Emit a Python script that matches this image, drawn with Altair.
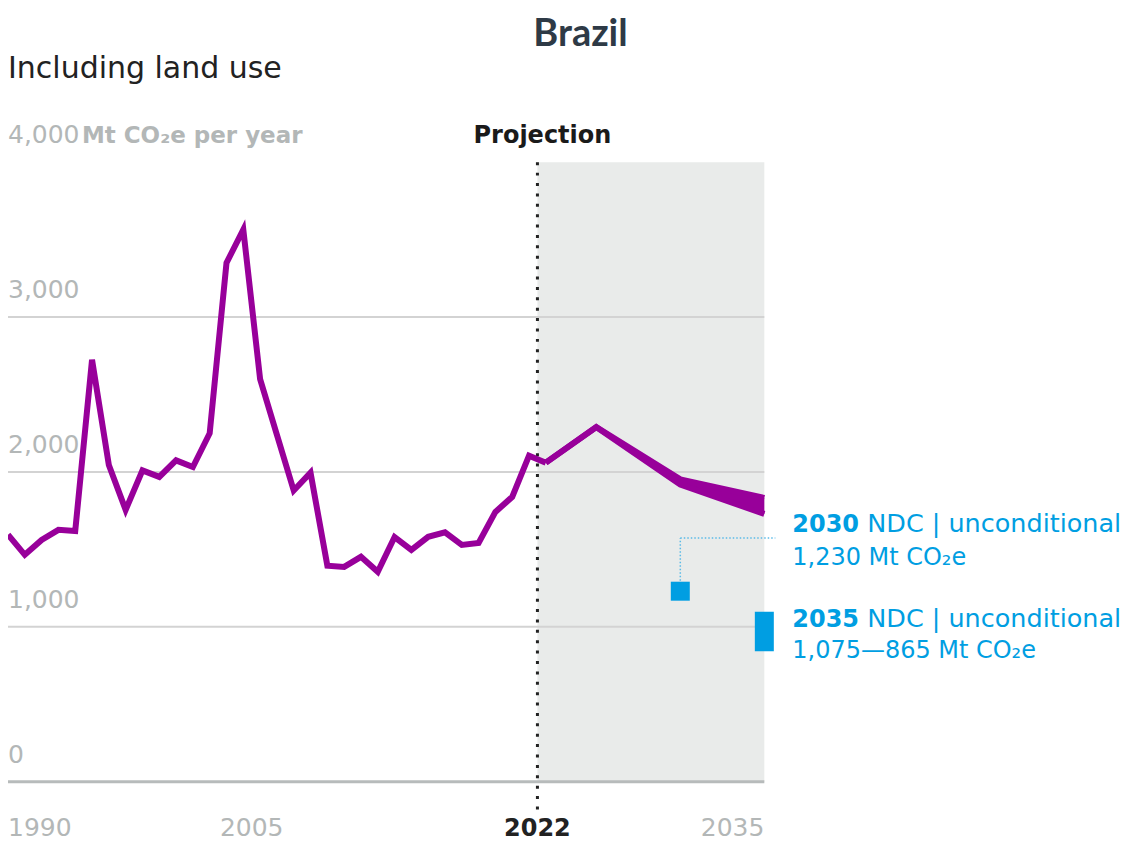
import altair as alt
import pandas as pd

# ---------------- data ----------------
hist_years = list(range(1990, 2023))
hist_values = [1595, 1465, 1561, 1626, 1619, 2725, 2045, 1755, 2010, 1968,
               2075, 2032, 2250, 3350, 3565, 2600, 2240, 1880, 1995, 1395,
               1387, 1452, 1355, 1580, 1497, 1581, 1610, 1529, 1542, 1742,
               1839, 2105, 2060]

proj_years = [2022, 2025, 2030, 2035]
proj_high = [2060, 2290, 1952, 1832]
proj_low = [2060, 2290, 1919, 1729]

ndc_years = [2030, 2035]
ndc_high = [1230, 1075]
ndc_low = [1230, 865]

y_ticks = [0, 1000, 2000, 3000, 4000]
grid_values = [1000, 2000, 3000]
x_tick_years = [1990, 2005, 2022, 2035]
projection_start = 2022

# ---------------- styles ----------------
PURPLE = "#98009a"
BLUE = "#009ee2"
GREY_TXT = "#b3b7b7"
FONT = "DejaVu Sans"
W, H = 757, 620

hist = pd.DataFrame({"year": hist_years, "value": hist_values})
proj = pd.DataFrame({"year": proj_years, "high": proj_high, "low": proj_low})
ndc = pd.DataFrame({"year": ndc_years, "high": ndc_high, "low": ndc_low})
yt = pd.DataFrame({"v": y_ticks})
grid = pd.DataFrame({"v": grid_values})
xt = pd.DataFrame({"year": x_tick_years, "label": [str(y) for y in x_tick_years]})
pstart = pd.DataFrame({"year": [projection_start]})

xs = alt.Scale(domain=[1990.5, 2035.5], nice=False, zero=False, padding=0)
ys = alt.Scale(domain=[0, 4000], nice=False, padding=0)
MID = "datum.year + 0.5"  # annual values plotted at mid-year

band = alt.Chart(pstart).mark_rect(color="#e9ebea").encode(
    x=alt.X("year:Q", scale=xs, axis=None),
    x2=alt.value(W),
    y=alt.value(0),
    y2=alt.value(H),
)

grid_rules = alt.Chart(grid).mark_rule(color="#d3d3d3", strokeWidth=2).encode(
    y=alt.Y("v:Q", scale=ys, axis=None), x=alt.value(0), x2=alt.value(W)
)

base_rule = alt.Chart(pd.DataFrame({"v": [0]})).mark_rule(color="#b7bbbb", strokeWidth=3).encode(
    y=alt.Y("v:Q", scale=ys, axis=None), x=alt.value(0), x2=alt.value(W)
)

dotted = alt.Chart(pstart).mark_rule(color="#222222", strokeWidth=3, strokeDash=[3, 7.4]).encode(
    x=alt.X("year:Q", scale=xs, axis=None), y=alt.value(0), y2=alt.value(648)
)

leader_v = alt.Chart(ndc).transform_filter("datum.year == 2030").transform_calculate(t=MID).mark_rule(
    color="#5bbbe8", strokeWidth=1.5, strokeDash=[1.5, 2]
).encode(x=alt.X("t:Q", scale=xs, axis=None), y=alt.Y("high:Q", scale=ys, axis=None), y2=alt.value(376))

leader_h = alt.Chart(ndc).transform_filter("datum.year == 2030").transform_calculate(t=MID).mark_rule(
    color="#5bbbe8", strokeWidth=1.5, strokeDash=[1.5, 2]
).encode(x=alt.X("t:Q", scale=xs, axis=None), x2=alt.value(768), y=alt.value(376))

hist_line = alt.Chart(hist).transform_calculate(t=MID).mark_line(
    color=PURPLE, strokeWidth=6, strokeJoin="miter"
).encode(x=alt.X("t:Q", scale=xs, axis=None), y=alt.Y("value:Q", scale=ys, axis=None))

proj_area = alt.Chart(proj).transform_calculate(t=MID).mark_area(color=PURPLE, opacity=1).encode(
    x=alt.X("t:Q", scale=xs, axis=None), y=alt.Y("high:Q", scale=ys, axis=None), y2="low:Q"
)
proj_hi = alt.Chart(proj).transform_calculate(t=MID).mark_line(color=PURPLE, strokeWidth=6).encode(
    x=alt.X("t:Q", scale=xs, axis=None), y=alt.Y("high:Q", scale=ys, axis=None)
)
proj_lo = alt.Chart(proj).transform_calculate(t=MID).mark_line(color=PURPLE, strokeWidth=6).encode(
    x=alt.X("t:Q", scale=xs, axis=None), y=alt.Y("low:Q", scale=ys, axis=None)
)

ndc_sq = alt.Chart(ndc).transform_filter("datum.year == 2030").transform_calculate(t=MID).mark_square(
    color=BLUE, size=361, opacity=1
).encode(x=alt.X("t:Q", scale=xs, axis=None), y=alt.Y("high:Q", scale=ys, axis=None))

ndc_bar = alt.Chart(ndc).transform_filter("datum.year == 2035").transform_calculate(t=MID).mark_bar(
    color=BLUE, stroke=BLUE, strokeWidth=7, width=12
).encode(x=alt.X("t:Q", scale=xs, axis=None), y=alt.Y("high:Q", scale=ys, axis=None), y2="low:Q")

ylabels = alt.Chart(yt).mark_text(
    align="left", baseline="alphabetic", dy=-19, font=FONT, fontSize=25, color=GREY_TXT
).encode(
    x=alt.value(0), y=alt.Y("v:Q", scale=ys, axis=None), text=alt.Text("v:Q", format=",")
)

def txt(s, x, y, size=24, weight="normal", color=BLUE, align="left", font=FONT):
    return alt.Chart(pd.DataFrame({"a": [0]})).mark_text(
        text=s, align=align, baseline="alphabetic", font=font, fontSize=size,
        fontWeight=weight, color=color
    ).encode(x=alt.value(x), y=alt.value(y))

unit = txt("Mt CO₂e per year", 74, -19, size=23, weight="bold", color=GREY_TXT)
title = txt("Brazil", 573, -116, size=38, weight="bold", color="#2e3a46", align="center", font="Lato")
subtitle = txt("Including land use", 0, -84, size=30, color="#222222")

projection_lbl = alt.Chart(pstart).mark_text(
    text="Projection", align="center", baseline="alphabetic", dx=5, dy=-19,
    font=FONT, fontSize=24, fontWeight="bold", color="#1a1a1a"
).encode(x=alt.X("year:Q", scale=xs, axis=None), y=alt.value(0))

def xlab(filt, align, weight, color, size=25):
    return alt.Chart(xt).transform_filter(filt).transform_calculate(
        px="datum.year <= 1990.5 ? 1990.5 : (datum.year >= 2035 ? 2035.5 : datum.year)"
    ).mark_text(
        align=align, baseline="alphabetic", font=FONT, fontSize=size, fontWeight=weight, color=color
    ).encode(x=alt.X("px:Q", scale=xs, axis=None), y=alt.value(674), text="label:N")

xl_first = xlab("datum.year == 1990", "left", "normal", GREY_TXT)
xl_mid = xlab("datum.year == 2005", "center", "normal", GREY_TXT)
xl_proj = xlab("datum.year == 2022", "center", "bold", "#222222", size=24)
xl_last = xlab("datum.year == 2035", "right", "normal", GREY_TXT)

a1 = txt("2030", 785, 370, weight="bold")
a2 = txt("NDC | unconditional", 860, 370, size=25.5)
a3 = txt("1,230 Mt CO₂e", 785, 403)
a4 = txt("2035", 785, 465, weight="bold")
a5 = txt("NDC | unconditional", 860, 465, size=25.5)
a6 = txt("1,075—865 Mt CO₂e", 785, 496)

chart = alt.layer(
    band, grid_rules, base_rule, dotted, leader_v, leader_h,
    hist_line, proj_area, proj_hi, proj_lo, ndc_sq, ndc_bar,
    ylabels, unit, title, subtitle, projection_lbl,
    xl_first, xl_mid, xl_proj, xl_last, a1, a2, a3, a4, a5, a6,
).properties(
    width=W, height=H,
    autosize=alt.AutoSizeParams(type="none"),
    padding={"left": 0, "top": 154, "right": 368, "bottom": 62},
).configure_view(stroke=None)

chart.save("out.html", embed_options={"renderer": "svg", "actions": False})
